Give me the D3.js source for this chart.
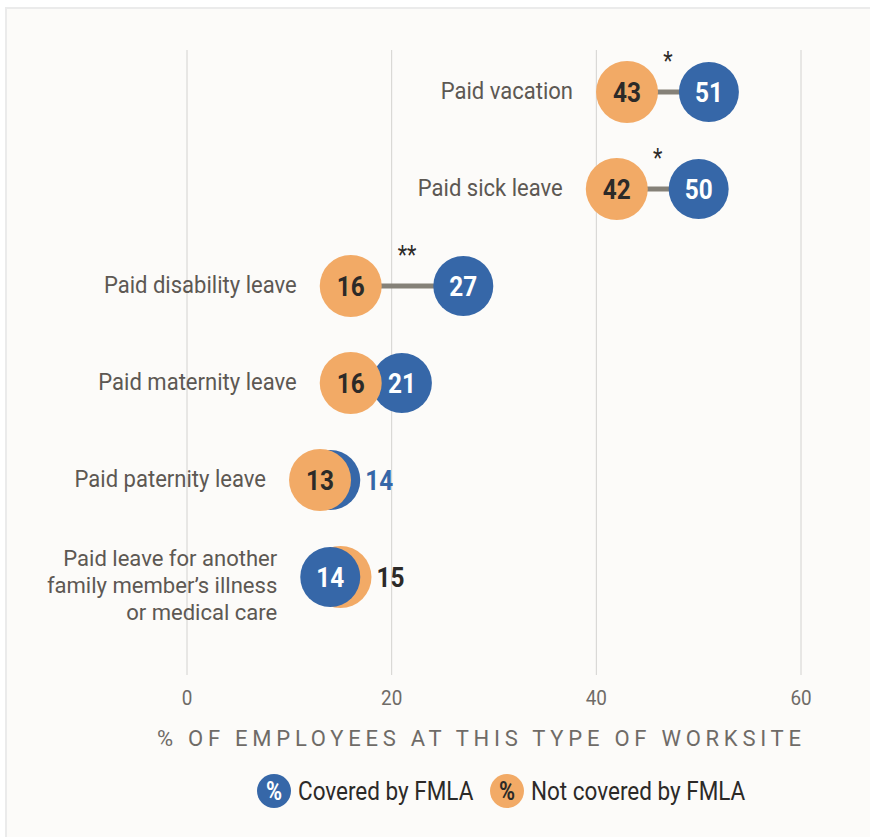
<!DOCTYPE html>
<html><head><meta charset="utf-8">
<script src="https://cdn.jsdelivr.net/npm/d3@7"></script>
<style>
html,body{margin:0;padding:0;background:#fff;}
svg{display:block;}
text{font-family:Roboto,"Noto Sans",sans-serif;}
</style></head><body>
<svg id="chart" width="870" height="837"></svg>
<script>
// ---- data ----
const categories = [
  "Paid vacation",
  "Paid sick leave",
  "Paid disability leave",
  "Paid maternity leave",
  "Paid paternity leave",
  "Paid leave for another\nfamily member\u2019s illness\nor medical care"
];
const coveredByFMLA    = [51, 50, 27, 21, 14, 14];
const notCoveredByFMLA = [43, 42, 16, 16, 13, 15];
const significance     = ["*", "*", "**", "", "", ""];
const xTicks = [0, 20, 40, 60];
const axisTitle = "% OF EMPLOYEES AT THIS TYPE OF WORKSITE";
const legendLabels = ["Covered by FMLA", "Not covered by FMLA"];

// ---- style ----
const BLUE = "#3667a8", ORANGE = "#f2aa66", DARK = "#2c2a28", GREY = "#5d5853", TICK = "#6f6b67";
const SX = 0.87; // condensed look

const svg = d3.select("#chart");
svg.append("rect").attr("x", 6).attr("y", 8).attr("width", 880).attr("height", 840)
  .attr("fill", "#fcfbf9").attr("stroke", "#ebebeb").attr("stroke-width", 2);

const x = d3.scaleLinear().domain([0, 60]).range([187, 801]);
const y = d3.scalePoint().domain(categories).range([92, 577]);

function ctext(parent, px, py, str, anchor, sx) {
  const g = parent.append("g").attr("transform", `translate(${px},${py}) scale(${sx || SX},1)`);
  return g.append("text").attr("text-anchor", anchor).text(str);
}

// gridlines
svg.append("g").selectAll("line").data(xTicks).join("line")
  .attr("x1", d => x(d)).attr("x2", d => x(d)).attr("y1", 50).attr("y2", 675)
  .attr("stroke", "#d3d2d0").attr("stroke-width", 1);

// tick labels
const tg = svg.append("g");
xTicks.forEach(t => ctext(tg, x(t), 705, t, "middle", 0.9)
  .attr("font-size", 21).attr("font-weight", 400).attr("fill", TICK));

// axis title with letter spacing to span width
const titleT = svg.append("text").attr("x", 0).attr("y", 746)
  .attr("font-size", 22).attr("fill", TICK).text(axisTitle);
{
  const w0 = titleT.node().getComputedTextLength();
  const target = 801 - 157;
  const ls = (target - w0) / (axisTitle.length - 1);
  titleT.attr("letter-spacing", ls).attr("x", 157);
}

// rows
const R_O = 31, R_B = 30;
categories.forEach((cat, i) => {
  const cy = y(cat);
  const g = svg.append("g");
  const ox = x(notCoveredByFMLA[i]), bx = x(coveredByFMLA[i]);
  const items = [
    {v: coveredByFMLA[i], cx: bx, r: R_B, fill: BLUE, txt: "#fff", outTxt: BLUE},
    {v: notCoveredByFMLA[i], cx: ox, r: R_O, fill: ORANGE, txt: DARK, outTxt: DARK}
  ];
  // connector
  g.append("line").attr("x1", ox).attr("x2", bx).attr("y1", cy).attr("y2", cy)
    .attr("stroke", "#858178").attr("stroke-width", 5);
  // larger value drawn first, smaller on top
  const sorted = items.slice().sort((a, b) => b.v - a.v);
  const overlap = Math.abs(bx - ox) < 40;
  sorted.forEach(d => g.append("circle").attr("cx", d.cx).attr("cy", cy).attr("r", d.r).attr("fill", d.fill));
  sorted.forEach((d, k) => {
    if (overlap && k === 0) {
      const other = sorted[1];
      const edge = Math.max(d.cx + d.r, other.cx + other.r);
      ctext(g, edge + 5, cy + 10, d.v, "start")
        .attr("font-size", 28).attr("font-weight", 700).attr("fill", d.outTxt);
    } else {
      ctext(g, d.cx, cy + 10, d.v, "middle")
        .attr("font-size", 28).attr("font-weight", 700).attr("fill", d.txt);
    }
  });
  // significance
  if (significance[i]) {
    ctext(g, (ox + bx) / 2, cy - 22, significance[i], "middle")
      .attr("font-size", 25).attr("fill", DARK);
  }
  // category label
  const left = Math.min(ox - R_O, bx - R_B) - 23;
  const lines = cat.split("\n");
  if (lines.length === 1) {
    ctext(g, left, cy + 7, cat, "end", 0.9).attr("font-size", 24.5).attr("fill", GREY);
  } else {
    lines.forEach((ln, j) => ctext(g, left, cy - 11 + j * 27, ln, "end", 0.98)
      .attr("font-size", 22.5).attr("fill", GREY));
  }
});

// legend
const lg = svg.append("g");
const legendItems = [
  {label: legendLabels[0], fill: BLUE, txt: "#fff", cx: 274},
  {label: legendLabels[1], fill: ORANGE, txt: DARK, cx: 507}
];
legendItems.forEach(d => {
  lg.append("circle").attr("cx", d.cx).attr("cy", 791).attr("r", 17).attr("fill", d.fill);
  ctext(lg, d.cx, 800, "%", "middle").attr("font-size", 25).attr("font-weight", 700).attr("fill", d.txt);
  ctext(lg, d.cx + 24, 800, d.label, "start", 0.9).attr("font-size", 25).attr("fill", DARK);
});
</script>
</body></html>
